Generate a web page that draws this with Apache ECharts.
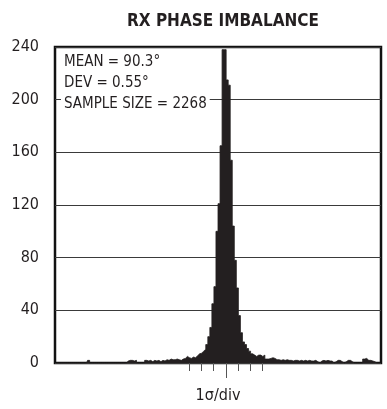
<!DOCTYPE html>
<html>
<head>
<meta charset="utf-8">
<script src="https://cdn.jsdelivr.net/npm/echarts@6/dist/echarts.min.js"></script>
<style>
  html, body { margin: 0; padding: 0; background: #ffffff; }
  #chart { width: 387px; height: 409px; }
</style>
</head>
<body>
<div id="chart"></div>
<script>
// Histogram of RX phase imbalance: counts per bin, left to right
const counts = [
  0, 0, 0, 0, 0, 0, 0, 0, 0, 0,
  0, 0, 0, 0, 0, 0, 2, 0, 0, 0,
  0, 0, 0, 0, 0, 0, 0, 0, 0, 0,
  0, 0, 0, 0, 0, 1.5, 2, 2, 1.5, 2,
  0, 0, 0, 0, 2, 1.5, 2, 1, 2, 1.5,
  2, 1, 2, 1.5, 2.5, 2, 3, 2.5, 2.5, 3,
  2.5, 2, 3, 3.5, 5, 4, 3.5, 4.5, 4, 5.5,
  7, 7.5, 9, 10.5, 14, 20, 27, 45, 58, 100,
  121, 165, 238, 238, 215, 211, 154, 104, 78, 57,
  36, 23, 16, 14, 11, 9, 7, 6, 5, 6,
  6, 5, 6, 3, 3, 3.5, 4, 3.5, 2.5, 2.5,
  2, 2.5, 2, 2.5, 2, 2, 1.5, 2, 2, 1.5,
  2, 1.5, 2, 1.5, 2, 1.5, 1.5, 2, 1, 0,
  1.5, 2, 1.5, 2, 1.5, 1.5, 0, 1, 2, 2,
  1, 0, 1, 2, 2, 1, 0, 0, 0, 0,
  0, 3, 3.5, 2, 2, 1.5, 1, 0, 0, 0
];
// bin numbers used as the categories of the histogram axis
const bins = counts.map((_, i) => String(i + 1));

// y-axis scale (count)
const yMin = 0;
const yMax = 240;
const yStep = 40;

// x-axis in units of standard deviation, 0 = mean
const sigmaMin = -14;
const sigmaMax = 12.72;
const sigmaTicks = [-3, -2, -1, 1, 2, 3];
const meanTick = [0];

const titleText = 'RX PHASE IMBALANCE';
const statsText = 'MEAN = 90.3°\nDEV = 0.55°\nSAMPLE SIZE = 2268';
const xName = '1σ/div';

const NARROW = '"DejaVu Sans Condensed", "Liberation Sans Narrow", sans-serif';
const INK = '#231f20';

const chart = echarts.init(document.getElementById('chart'), null, { renderer: 'canvas' });

function sigmaAxis(ticks, len, withName) {
  const ax = {
    type: 'value',
    min: sigmaMin,
    max: sigmaMax,
    position: 'bottom',
    axisLine: { show: false },
    splitLine: { show: false },
    axisLabel: { show: false },
    axisTick: {
      show: true,
      customValues: ticks,
      length: len,
      lineStyle: { color: '#555', width: 1 }
    }
  };
  if (withName) {
    ax.name = xName;
    ax.nameLocation = 'middle';
    ax.nameGap = 25;
    ax.nameTextStyle = { fontFamily: NARROW, fontSize: 16, color: INK };
  }
  return ax;
}

chart.setOption({
  animation: false,
  backgroundColor: '#ffffff',
  title: [
    {
      text: titleText,
      left: 218,
      top: 8,
      textAlign: 'center',
      textStyle: { fontFamily: NARROW, fontWeight: 'bold', fontSize: 17, color: INK }
    },
    {
      text: statsText,
      left: 61,
      top: 52,
      padding: [0, 3, 0, 3],
      backgroundColor: '#ffffff',
      textStyle: { fontFamily: NARROW, fontWeight: 'normal', fontSize: 15, lineHeight: 21, color: INK }
    }
  ],
  grid: {
    left: 55,
    right: 6,
    top: 47,
    bottom: 38,
    show: true,
    borderColor: '#111111',
    borderWidth: 2.5,
    backgroundColor: 'transparent'
  },
  xAxis: [
    { type: 'category', data: bins, show: false, boundaryGap: true },
    sigmaAxis(sigmaTicks, 8, true),
    sigmaAxis(meanTick, 15, false)
  ],
  yAxis: {
    type: 'value',
    min: yMin,
    max: yMax,
    interval: yStep,
    axisLine: { show: false },
    axisTick: { show: false },
    axisLabel: { fontFamily: NARROW, fontSize: 16, color: INK, margin: 16 },
    splitLine: { lineStyle: { color: '#3a3a3a', width: 1 } }
  },
  series: [{
    // stepped outline filled down to zero: one flat top per bin
    type: 'line',
    xAxisIndex: 0,
    data: counts,
    step: 'middle',
    symbol: 'none',
    lineStyle: { color: INK, width: 0.8 },
    areaStyle: { color: INK, opacity: 1 },
    z: 3
  }]
});
</script>
</body>
</html>
